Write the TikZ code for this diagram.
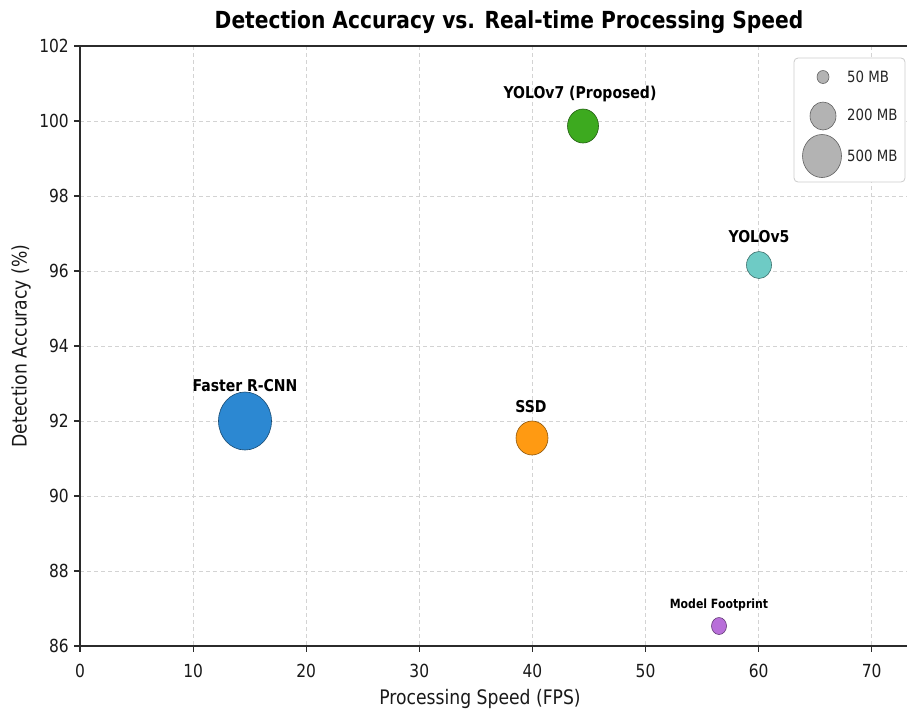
\documentclass[tikz,border=0pt]{standalone}
\usepackage{fontspec}
\setmainfont{DejaVu Sans}[FakeStretch=0.86]
\usetikzlibrary{shapes.geometric}
\definecolor{gridgray}{HTML}{D3D3D3}
\definecolor{spinecol}{HTML}{2B2B2B}
\definecolor{cblue}{HTML}{2C88D2}
\definecolor{corange}{HTML}{FF9A12}
\definecolor{cgreen}{HTML}{3DAA1F}
\definecolor{cteal}{HTML}{6ECBC5}
\definecolor{cpurple}{HTML}{B86FD9}
\definecolor{cgray}{HTML}{B3B3B3}
\begin{document}
\begin{tikzpicture}[x=1pt,y=-1pt,
  gridline/.style={draw=gridgray, line width=0.8pt, dash pattern=on 4pt off 3pt},
  spine/.style={draw=spinecol, line width=1.4pt},
  tickmark/.style={draw=spinecol, line width=1.1pt},
  bubble/.style={ellipse, draw=#1!55!black, line width=0.6pt, fill=#1, inner sep=0pt},
  lab/.style={font=\fontsize{16.3}{18}\selectfont\bfseries, inner sep=0pt, anchor=base},
  ticklab/.style={font=\fontsize{18}{20}\selectfont, inner sep=0pt, text=black!90},
  axlab/.style={font=\fontsize{20}{22}\selectfont, inner sep=0pt, text=black!90},
  legtext/.style={font=\fontsize{15.5}{17}\selectfont, inner sep=0pt, anchor=west, text=black!85}]
\useasboundingbox (0,0) rectangle (907,713);
\fill[white] (0,0) rectangle (907,713);
% grid
\foreach \v in {10,20,...,70} {
  \pgfmathsetmacro{\px}{80+11.31*\v}
  \draw[gridline] (\px,46) -- (\px,646);
}
\foreach \v in {88,90,...,100} {
  \pgfmathsetmacro{\py}{646-37.5*(\v-86)}
  \draw[gridline] (80,\py) -- (907,\py);
}
% spines
\draw[spine] (80,46) -- (907,46);
\draw[spine] (80,646) -- (907,646);
\draw[spine] (80,46) -- (80,646);
% ticks and labels
\foreach \v in {0,10,...,70} {
  \pgfmathsetmacro{\px}{80+11.31*\v}
  \draw[tickmark] (\px,646) -- (\px,652);
  \node[ticklab, anchor=base] (xt\v) at (\px,677) {\v};
}
\foreach \v in {86,88,...,102} {
  \pgfmathsetmacro{\py}{646-37.5*(\v-86)}
  \draw[tickmark] (74,\py) -- (80,\py);
  \node[ticklab, anchor=east] (yt\v) at (69,\py) {\v};
}
% axis labels and title
\node[axlab, anchor=base] (xlabel) at (480,704) {Processing Speed (FPS)};
\node[axlab, rotate=90] (ylabel) at (21,346) {Detection Accuracy (\%)};
\node[font=\fontsize{23.5}{26}\selectfont\bfseries, inner sep=0pt, anchor=base] (title) at (509,28) {Detection Accuracy vs. Real-time Processing Speed};
% bubbles
\node[bubble=cblue, minimum width=53pt, minimum height=58pt] (frcnn) at (245,421) {};
\node[lab] (frcnnlab) at (245,391) {Faster R-CNN};
\node[bubble=corange, minimum width=32pt, minimum height=34pt] (ssd) at (532,438) {};
\node[lab] (ssdlab) at (531,412) {SSD};
\node[bubble=cgreen, minimum width=31pt, minimum height=34pt] (yolo7) at (583,126) {};
\node[lab] (yolo7lab) at (580,98) {YOLOv7 (Proposed)};
\node[bubble=cteal, minimum width=25pt, minimum height=27pt] (yolo5) at (759,265) {};
\node[lab] (yolo5lab) at (759,242) {YOLOv5};
\node[bubble=cpurple, minimum width=15pt, minimum height=17pt] (foot) at (719,626) {};
\node[lab, font=\fontsize{12.7}{14}\selectfont\bfseries] (footlab) at (719,608) {Model Footprint};
% legend
\node[draw=black!20, fill=white, rounded corners=4pt, line width=0.8pt, minimum width=111pt, minimum height=124pt, inner sep=0pt] (legend) at (849.5,120) {};
\node[bubble=cgray, minimum width=12pt, minimum height=13pt] (l50) at (823,77) {};
\node[legtext] (t50) at (847,77) {50 MB};
\node[bubble=cgray, minimum width=26pt, minimum height=28pt] (l200) at (823,116) {};
\node[legtext] (t200) at (847,115) {200 MB};
\node[bubble=cgray, minimum width=39pt, minimum height=43pt] (l500) at (822,156) {};
\node[legtext] (t500) at (847,156) {500 MB};
\end{tikzpicture}
\end{document}
